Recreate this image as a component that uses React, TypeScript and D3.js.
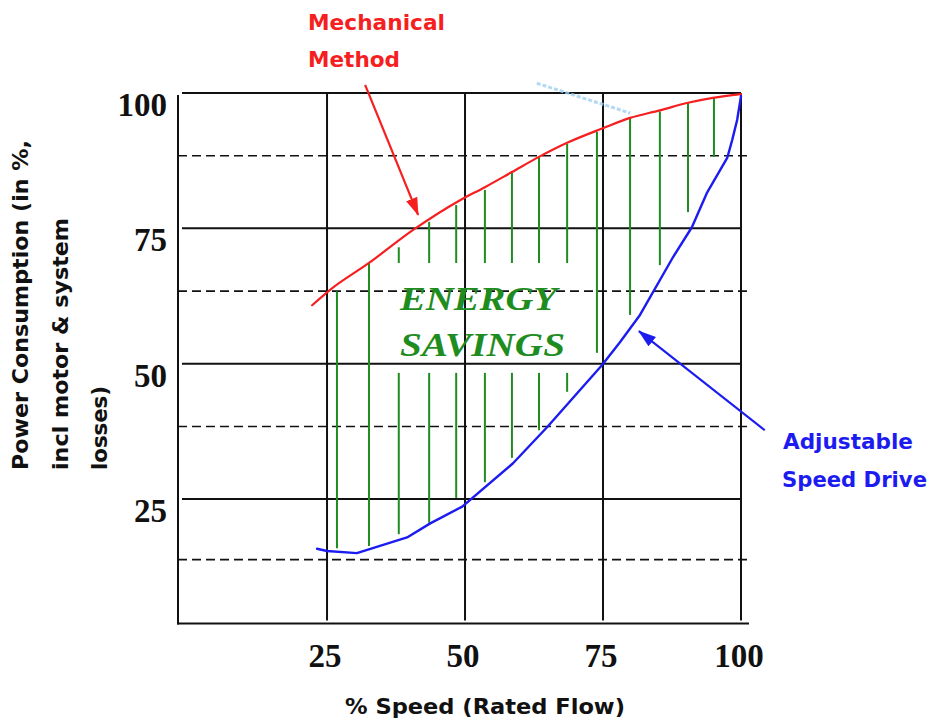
import React from "react";
import * as d3 from "d3";

// ---- data (values in chart units: % speed, % power) ----
const xTicks = [25, 50, 75, 100];
const yTicks = [100, 75, 50, 25];
const yDashed = [88.4, 63.4, 38.4, 13.8];

const mechanical: [number, number][] = [
  [22.3, 60.8], [25.5, 63.6], [32.6, 68.6], [40.6, 74.7], [49.1, 80.2],
  [53.6, 82.6], [58.5, 85.4], [63.4, 88.2], [68.5, 90.8],
  [75, 93.5], [79.9, 95.4], [85.3, 96.8], [90.4, 98.2], [94.9, 99.1], [100, 99.8],
];

const asd: [number, number][] = [
  [23.2, 15.8], [25, 15.4], [30.4, 15.0], [39.5, 17.9], [43.7, 20.5],
  [49.5, 23.6], [58.7, 31.6], [64.9, 38.3], [74.8, 49.7], [78.1, 54.0],
  [81.7, 59.0], [87.7, 69.7], [91.1, 75.2], [93.8, 81.5], [97.5, 88.0],
  [98.4, 91.3], [99.3, 95.0], [100, 99.4],
];

// hatch segments: [x, yTop, yBottom]
const hatch: [number, number, number][] = [
  [26.8, 63.4, 15.9],
  [32.6, 68.6, 16.3],
  [38.0, 71.5, 68.6], [38.0, 48.3, 18.5],
  [43.5, 76.2, 68.6], [43.5, 48.3, 20.6],
  [48.4, 79.3, 68.6], [48.4, 48.3, 25.2],
  [53.6, 82.1, 68.6], [53.6, 48.3, 28.1],
  [58.5, 85.4, 68.6], [58.5, 48.3, 32.6],
  [63.4, 88.2, 68.6], [63.4, 48.3, 37.7],
  [68.5, 90.6, 68.6], [68.5, 48.3, 44.8],
  [73.9, 92.8, 52.0],
  [79.9, 95.4, 59.0],
  [85.3, 96.6, 68.2],
  [90.4, 98.2, 78.0],
  [95.1, 99.1, 88.2],
];

// annotation arrows in chart units: [fromX, fromY, toX, toY]
const redArrow = [31.9, 101.5, 41.5, 77.5];
const blueArrow = [104.3, 37.7, 81.5, 56.0];
const faintTrace = [63.0, 101.8, 79.9, 96.3];

const yTitleLines = ["Power Consumption (in %,", "incl motor & system", "losses)"];
const xTitle = "% Speed (Rated Flow)";

// ---- layout ----
const W = 933, H = 724;
const left = 178, right = 741, top = 93, bottom = 623.5;
const comic = "'Comic Sans MS', 'DejaVu Sans', sans-serif";
const serif = "'Liberation Serif', 'Times New Roman', serif";
const yTitleX = [28, 68, 107];
const yTitleLen = [330, 252, 84];

export default function App() {
  const x = d3.scaleLinear().domain([-2, 100]).range([left, right]);
  const y = d3.scaleLinear().domain([2, 100]).range([bottom, top]);
  const smooth = d3.line<[number, number]>().x((d) => x(d[0])).y((d) => y(d[1]))
    .curve(d3.curveMonotoneX);
  const poly = d3.line<[number, number]>().x((d) => x(d[0])).y((d) => y(d[1]));

  const red = "#f51f1f";
  const blue = "#1c1cf0";
  const green = "#1f8c1f";

  return (
    <svg
      width={W}
      height={H}
      style={{ position: "absolute", left: 0, top: 0, background: "#fff" }}
    >
      <defs>
        <marker id="ahRed" markerUnits="userSpaceOnUse" markerWidth="20" markerHeight="14"
          refX="17" refY="6" orient="auto">
          <path d="M0,0 L18,6 L0,12 Z" fill={red} />
        </marker>
        <marker id="ahBlue" markerUnits="userSpaceOnUse" markerWidth="20" markerHeight="14"
          refX="17" refY="6" orient="auto">
          <path d="M0,0 L18,6 L0,12 Z" fill={blue} />
        </marker>
      </defs>
      <rect width={W} height={H} fill="#fff" />

      {/* dashed grid lines */}
      {yDashed.map((v) => (
        <line key={"d" + v} x1={left} x2={right + 9} y1={y(v)} y2={y(v)}
          stroke="#111" strokeWidth={1.6} strokeDasharray="9,5" />
      ))}
      {/* solid horizontal grid lines */}
      {yTicks.map((v) => (
        <line key={"h" + v} x1={left + 4} x2={right} y1={y(v)} y2={y(v)}
          stroke="#111" strokeWidth={2} />
      ))}
      {/* vertical grid lines */}
      {xTicks.map((v) => (
        <line key={"v" + v} x1={x(v)} x2={x(v)} y1={y(100)} y2={bottom - 3}
          stroke="#111" strokeWidth={2} />
      ))}
      {/* axes */}
      <line x1={left} x2={left} y1={top + 2} y2={bottom + 1} stroke="#111" strokeWidth={2} />
      <line x1={left - 1} x2={right + 8} y1={bottom} y2={bottom} stroke="#111" strokeWidth={2.2} />

      {/* faint trace */}
      <line x1={x(faintTrace[0])} y1={y(faintTrace[1])} x2={x(faintTrace[2])} y2={y(faintTrace[3])}
        stroke="#9fd0f5" strokeWidth={3} strokeDasharray="4,2" opacity={0.8} />

      {/* hatch */}
      {hatch.map((h, i) => (
        <line key={"g" + i} x1={x(h[0])} x2={x(h[0])} y1={y(h[1])} y2={y(h[2])}
          stroke={green} strokeWidth={2} />
      ))}

      {/* curves */}
      <path d={smooth(mechanical) || ""} fill="none" stroke={red} strokeWidth={2.2}
        strokeLinejoin="round" strokeLinecap="round" />
      <path d={poly(asd) || ""} fill="none" stroke={blue} strokeWidth={2.4}
        strokeLinejoin="round" strokeLinecap="round" />

      {/* arrows */}
      <line x1={x(redArrow[0])} y1={y(redArrow[1])} x2={x(redArrow[2])} y2={y(redArrow[3])}
        stroke={red} strokeWidth={2.2} markerEnd="url(#ahRed)" />
      <line x1={x(blueArrow[0])} y1={y(blueArrow[1])} x2={x(blueArrow[2])} y2={y(blueArrow[3])}
        stroke={blue} strokeWidth={2.2} markerEnd="url(#ahBlue)" />

      {/* ENERGY SAVINGS */}
      <text x={400} y={310} fill={green} fontFamily={serif} fontWeight="bold" fontStyle="italic"
        fontSize={34} textLength={157} lengthAdjust="spacingAndGlyphs">ENERGY</text>
      <text x={400} y={356} fill={green} fontFamily={serif} fontWeight="bold" fontStyle="italic"
        fontSize={34} textLength={165} lengthAdjust="spacingAndGlyphs">SAVINGS</text>

      {/* annotations */}
      <text x={308} y={30} fill={red} fontFamily={comic} fontWeight="bold" fontSize={22}
        textLength={137} lengthAdjust="spacingAndGlyphs">Mechanical</text>
      <text x={308} y={67} fill={red} fontFamily={comic} fontWeight="bold" fontSize={22}
        textLength={92} lengthAdjust="spacingAndGlyphs">Method</text>
      <text x={783} y={449} fill={blue} fontFamily={comic} fontWeight="bold" fontSize={21}
        textLength={130} lengthAdjust="spacingAndGlyphs">Adjustable</text>
      <text x={782} y={487} fill={blue} fontFamily={comic} fontWeight="bold" fontSize={21}
        textLength={145} lengthAdjust="spacingAndGlyphs">Speed Drive</text>

      {/* tick labels */}
      {yTicks.map((v) => (
        <text key={"yl" + v} x={167} y={y(v) + 23} textAnchor="end" fontFamily={serif}
          fontWeight="bold" fontSize={33} fill="#111">{v}</text>
      ))}
      {xTicks.map((v) => (
        <text key={"xl" + v} x={x(v) - 2} y={667} textAnchor="middle" fontFamily={serif}
          fontWeight="bold" fontSize={33} fill="#111">{v}</text>
      ))}

      {/* axis titles */}
      <text x={345} y={714} fontFamily={comic} fontWeight="bold" fontSize={21} fill="#111"
        textLength={280} lengthAdjust="spacingAndGlyphs">{xTitle}</text>
      {yTitleLines.map((t, i) => (
        <text key={"yt" + i} transform={`translate(${yTitleX[i]},470) rotate(-90)`}
          fontFamily={comic} fontWeight="bold" fontSize={22} fill="#111"
          textLength={yTitleLen[i]} lengthAdjust="spacingAndGlyphs">{t}</text>
      ))}
    </svg>
  );
}
